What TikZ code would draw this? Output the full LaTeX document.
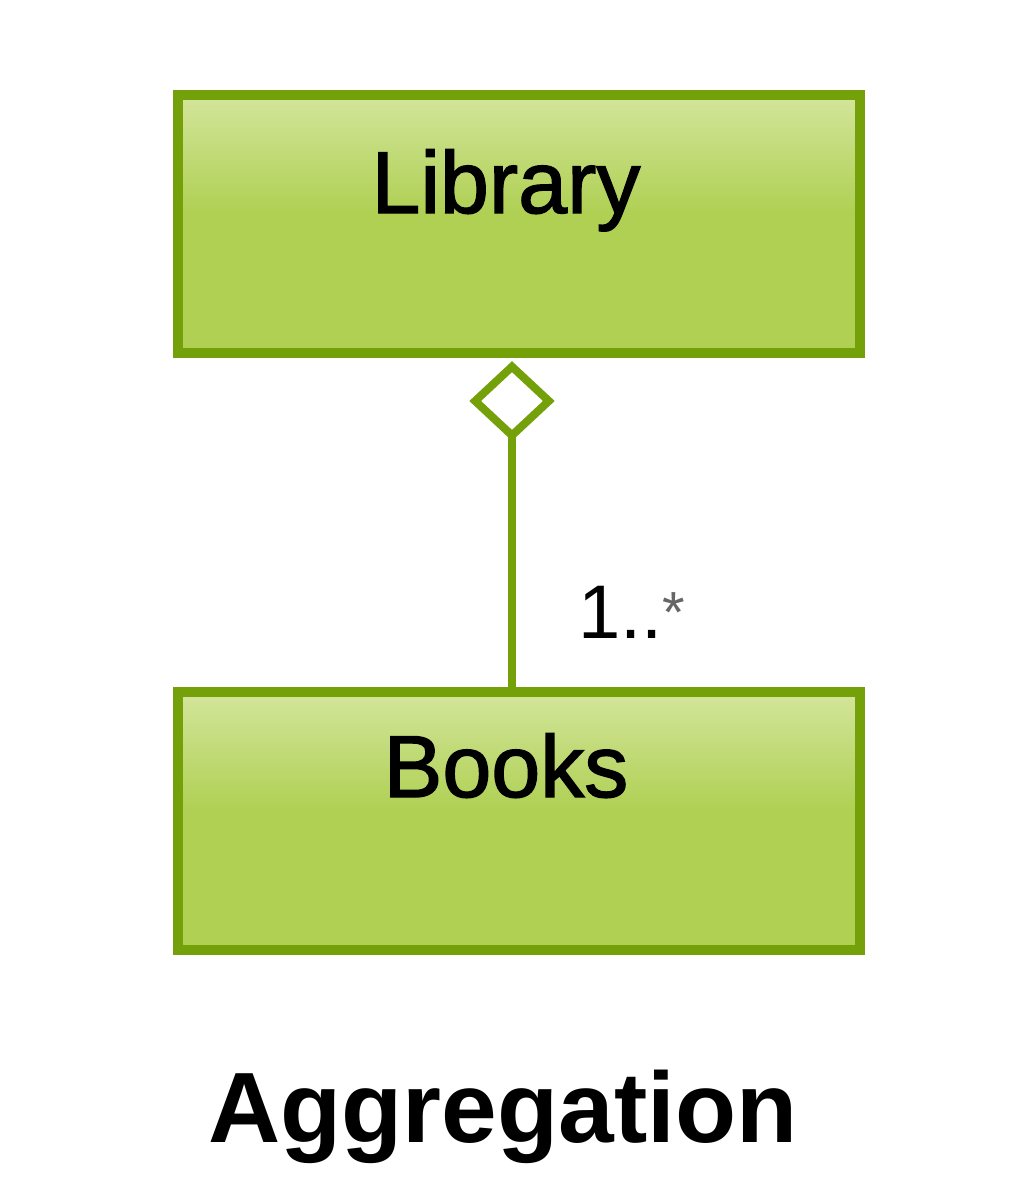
\documentclass[tikz,border=0pt]{standalone}
\usepackage{fontspec}
\setmainfont{Liberation Sans}
\newfontfamily\heavyfont[FakeBold=1.6]{Liberation Sans}
\usetikzlibrary{shapes.geometric}
\definecolor{umlborder}{HTML}{74A10A}
\definecolor{umltop}{HTML}{D3E59B}
\definecolor{umlbot}{HTML}{AFD053}
\pgfdeclareverticalshading{umlshade}{100bp}{color(0bp)=(umlbot); color(25bp)=(umlbot); color(52bp)=(umlbot); color(75bp)=(umltop); color(100bp)=(umltop)}
\tikzset{
  umlbox/.style={draw=umlborder, line width=10pt, shading=umlshade, minimum width=682pt, minimum height=258pt, inner sep=0pt},
  boxtext/.style={font=\heavyfont\fontsize{88}{100}\selectfont, anchor=base, inner sep=0pt},
  agg/.style={diamond, draw=umlborder, fill=white, line width=8pt, minimum width=77pt, minimum height=72pt, inner sep=0pt, aspect=1.05},
  conn/.style={draw=umlborder, line width=8pt}
}
\begin{document}
\begin{tikzpicture}[x=1pt,y=-1pt]
\useasboundingbox (0,0) rectangle (1031,1200);
\node[umlbox] (lib) at (519,224) {};
\node[boxtext] (libtxt) at (506,213) {Library};
\node[umlbox] (books) at (519,821) {};
\node[boxtext] (bookstxt) at (506,797) {Books};
\node[agg] (dia) at (512,401) {};
\draw[conn, shorten <=-5pt] (dia.south) -- (books.north -| dia.south);
\node[font=\fontsize{76}{90}\selectfont, anchor=base west, inner sep=0pt] (mult) at (578,638) {1..\raisebox{6pt}{\fontsize{58}{60}\selectfont\textcolor{black!60}{*}}};
\node[font=\fontsize{100}{110}\selectfont\bfseries, anchor=base, inner sep=0pt] (title) at (503,1142) {Aggregation};
\end{tikzpicture}
\end{document}
